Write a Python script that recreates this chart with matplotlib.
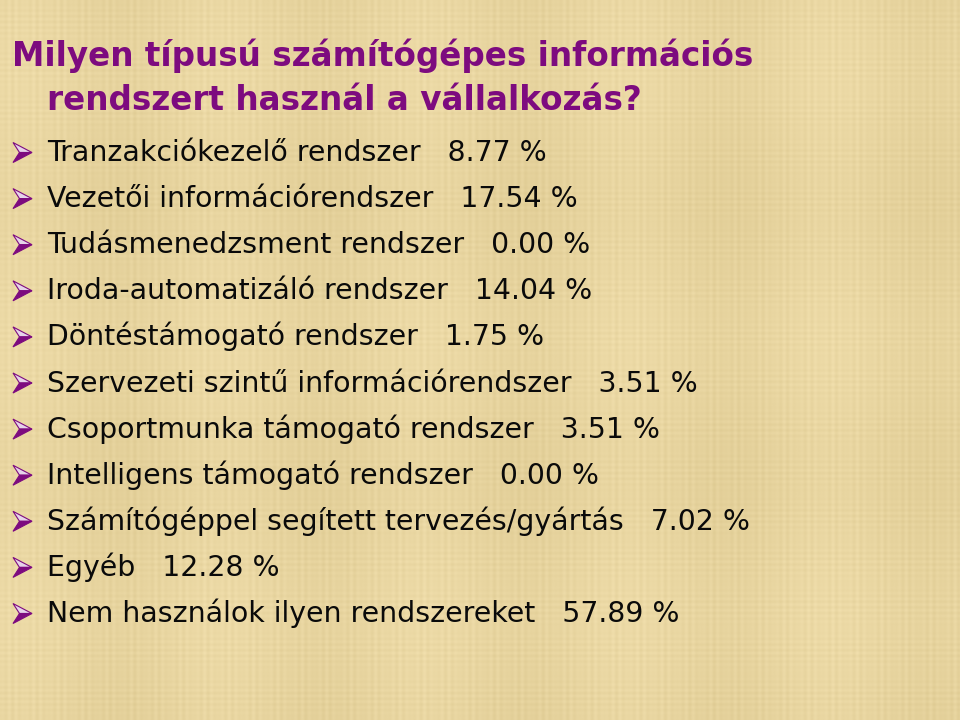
import numpy as np
import matplotlib
matplotlib.use("Agg")
import matplotlib.pyplot as plt
from matplotlib.patches import Polygon

# ---- data ----
title_lines = ["Milyen típusú számítógépes információs",
               "rendszert használ a vállalkozás?"]
labels = [
    "Tranzakciókezelő rendszer",
    "Vezetői információrendszer",
    "Tudásmenedzsment rendszer",
    "Iroda-automatizáló rendszer",
    "Döntéstámogató rendszer",
    "Szervezeti szintű információrendszer",
    "Csoportmunka támogató rendszer",
    "Intelligens támogató rendszer",
    "Számítógéppel segített tervezés/gyártás",
    "Egyéb",
    "Nem használok ilyen rendszereket",
]
values = [8.77, 17.54, 0.00, 14.04, 1.75, 3.51, 3.51, 0.00, 7.02, 12.28, 57.89]

W, H = 960, 720
fig = plt.figure(figsize=(9.6, 7.2), dpi=100)
ax = fig.add_axes([0, 0, 1, 1])
ax.set_xlim(0, W)
ax.set_ylim(H, 0)
ax.axis("off")

# ---- parchment background (deterministic texture) ----
xx = np.arange(W)[None, :]
yy = np.arange(H)[:, None]
tex = (0.5 * np.sin(xx * 0.9) * np.sin(xx * 0.13)
       + 0.35 * np.sin(yy * 1.1) * np.sin(yy * 0.07)
       + 0.4 * np.sin(xx * 0.031 + 1.0) + 0.25 * np.sin(yy * 0.023))
tex = tex / np.abs(tex).max()
base = np.array([232, 213, 160]) / 255.0
amp = np.array([10, 11, 14]) / 255.0
img = base[None, None, :] + tex[:, :, None] * amp[None, None, :]
ax.imshow(np.clip(img, 0, 1), extent=(0, W, H, 0), zorder=0, aspect="auto")

FONT = "DejaVu Sans"
purple = "#7d0b7f"

# ---- title ----
ax.text(12, 66, title_lines[0], fontfamily=FONT, fontweight="bold",
        fontsize=23.5, color=purple, va="baseline", ha="left", zorder=3)
ax.text(47, 110, title_lines[1], fontfamily=FONT, fontweight="bold",
        fontsize=23.5, color=purple, va="baseline", ha="left", zorder=3)

# ---- bullet list ----
b0, step = 161, 46.1
for i, (lab, val) in enumerate(zip(labels, values)):
    b = b0 + i * step
    c = b - 8.5
    upper = Polygon([(13, c - 10), (32, c), (19.5, c)], closed=True,
                    facecolor="#e6d3ea", edgecolor=purple, lw=0.8, zorder=3)
    lower = Polygon([(19.5, c), (32, c), (13, c + 10)], closed=True,
                    facecolor=purple, edgecolor=purple, lw=0.8, zorder=3)
    ax.add_patch(upper)
    ax.add_patch(lower)
    ax.text(47, b, f"{lab}   {val:.2f} %", fontfamily=FONT, fontsize=20.4,
            color="#0a0a0a", va="baseline", ha="left", zorder=3)

fig.savefig("out.png", dpi=100)
